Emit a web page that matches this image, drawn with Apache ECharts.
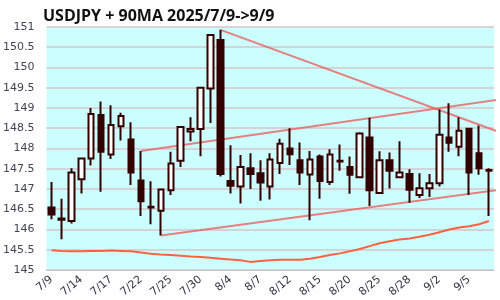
<!DOCTYPE html>
<html><head><meta charset="utf-8">
<script src="https://cdn.jsdelivr.net/npm/echarts@6/dist/echarts.min.js"></script>
<style>html,body{margin:0;padding:0;background:#fff}#c{width:500px;height:300px}</style>
</head><body><div id="c"></div>
<script>
var titleText = 'USDJPY + 90MA 2025/7/9->9/9';
var dates = ['7/9','7/10','7/11','7/14','7/15','7/16','7/17','7/18','7/21','7/22','7/23','7/24','7/25','7/28','7/29','7/30','7/31','8/1','8/4','8/5','8/6','8/7','8/8','8/11','8/12','8/13','8/14','8/15','8/18','8/19','8/20','8/21','8/22','8/25','8/26','8/27','8/28','8/29','9/1','9/2','9/3','9/4','9/5','9/8','9/9'];
var opens  = [146.54,146.27,146.21,147.24,147.75,148.83,147.85,148.55,148.22,147.21,146.56,146.46,146.97,147.70,148.42,148.48,149.48,150.68,147.20,147.06,147.51,147.39,147.06,147.64,148.00,147.71,147.36,147.80,147.17,147.70,147.54,147.29,148.27,146.90,147.71,147.29,147.37,146.85,147.02,147.14,148.27,148.04,148.49,147.88,147.47];
var closes = [146.37,146.24,147.41,147.75,148.85,147.92,148.58,148.80,147.41,146.70,146.54,146.99,147.63,148.53,148.48,149.50,150.80,147.37,147.08,147.54,147.37,147.16,147.73,148.12,147.86,147.41,147.73,147.20,147.85,147.68,147.35,148.37,146.97,147.71,147.45,147.41,146.98,147.02,147.14,148.34,148.14,148.44,147.41,147.51,147.45];
var lows   = [146.25,145.76,146.15,146.89,147.58,146.93,147.74,148.20,147.10,146.33,146.13,145.85,146.85,147.54,148.18,147.81,148.63,147.31,146.89,146.64,147.00,146.71,146.74,147.37,147.59,147.10,146.23,146.76,147.10,147.45,146.88,147.27,146.58,146.90,147.01,147.29,146.66,146.78,146.80,147.06,147.92,147.81,146.85,147.35,146.33];
var highs  = [147.17,146.76,147.51,147.77,149.00,149.16,149.07,148.88,148.65,147.94,147.19,146.99,147.92,148.55,148.77,149.50,150.83,150.93,148.08,147.84,147.88,147.71,147.88,148.24,148.50,148.15,147.94,147.85,147.98,148.10,147.80,148.40,148.76,147.93,147.90,148.18,147.49,147.39,147.37,148.96,149.12,148.77,148.51,148.57,147.51];
var ma90   = [145.49,145.47,145.46,145.46,145.47,145.47,145.48,145.47,145.46,145.43,145.40,145.38,145.37,145.35,145.33,145.32,145.30,145.28,145.26,145.24,145.20,145.22,145.24,145.25,145.25,145.25,145.28,145.32,145.37,145.41,145.46,145.52,145.59,145.66,145.71,145.75,145.78,145.82,145.87,145.93,146.00,146.05,146.08,146.13,146.21];
// trend lines: [startIndex, startValue], [endIndex, endValue]
var trendDown  = [[17, 150.93], [45.1, 148.40]];
var trendUpTop = [[9, 147.94], [45.1, 149.21]];
var trendUpLow = [[11, 145.85], [45.1, 146.98]];

var ohlc = dates.map(function(d, i){ return [opens[i], closes[i], lows[i], highs[i]]; });
var trendStyle = { color: 'rgba(232,96,96,0.8)', width: 2 };
function trend(data){
  return { type: 'line', xAxisIndex: 1, data: data, symbol: 'none', clip: false, silent: true,
    lineStyle: trendStyle, z: 4, animation: false };
}
var chart = echarts.init(document.getElementById('c'), null, {renderer: 'canvas'});
chart.setOption({
  animation: false,
  title: { text: titleText, left: 38, top: 3,
    textStyle: { fontFamily: 'Open Sans', fontWeight: 'bold', fontSize: 16, color: '#111' } },
  grid: { left: 40, right: 6, top: 27, bottom: 27, show: true, backgroundColor: '#ccffff', borderWidth: 0 },
  xAxis: [{
    type: 'category', data: dates, boundaryGap: true,
    axisTick: { show: false },
    axisLine: { lineStyle: { color: '#c4c4c4', width: 1 } },
    axisLabel: { interval: 2, rotate: 40, fontSize: 11, color: '#334', fontFamily: 'DejaVu Sans', margin: 8 },
    splitLine: { show: false }
  }, {
    type: 'value', min: -0.5, max: 44.5, show: false
  }],
  yAxis: {
    type: 'value', min: 145, max: 151, interval: 0.5,
    axisLine: { show: false }, axisTick: { show: false },
    axisLabel: { fontSize: 11, color: '#445', fontFamily: 'DejaVu Sans', margin: 12 },
    splitLine: { lineStyle: { color: '#d6c6c8', width: 1.5 } }
  },
  series: [
    { type: 'line', data: ma90, symbol: 'none', smooth: false,
      lineStyle: { color: '#ff6040', width: 2 }, z: 3 },
    trend(trendDown), trend(trendUpTop), trend(trendUpLow),
    { type: 'candlestick', data: ohlc, barWidth: 6, z: 5,
      itemStyle: { color: '#ffffff', color0: '#330000', borderColor: '#330000', borderColor0: '#330000', borderWidth: 2 } }
  ]
});
</script></body></html>
